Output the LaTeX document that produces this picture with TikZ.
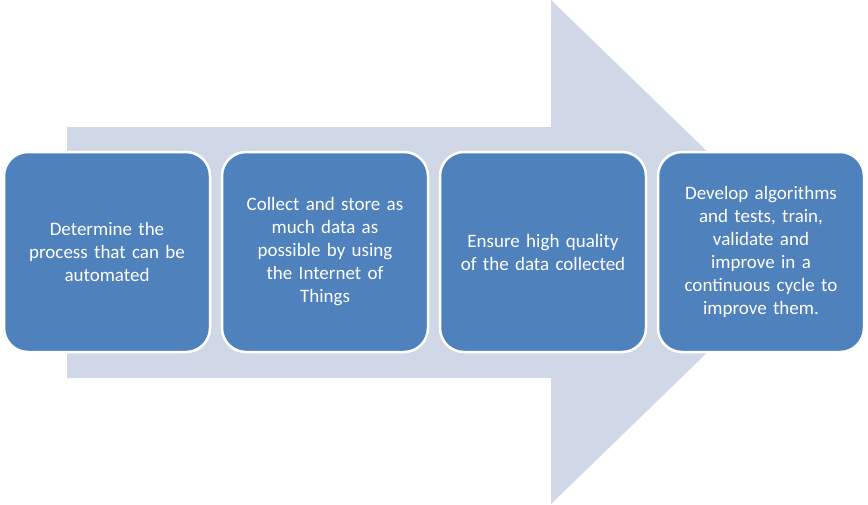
\documentclass[tikz,border=0pt]{standalone}
\usepackage{fontspec}
\setmainfont{Carlito}
\begin{document}
\begin{tikzpicture}[x=1pt,y=-1pt,
  box/.style={draw=white,line width=2.5pt,fill=boxblue,rounded corners=24pt,
    minimum width=206pt,minimum height=200pt,text width=170pt,align=center,
    text=white,font=\fontsize{19pt}{23pt}\selectfont,inner sep=0pt}]
\definecolor{boxblue}{HTML}{4F81BD}
\definecolor{arrowfill}{HTML}{D0D8E8}
\useasboundingbox (0,0) rectangle (868,504);
\fill[arrowfill] (67,127) -- (551,127) -- (551,0) -- (811,252) -- (551,504) -- (551,378) -- (67,378) -- cycle;
\node[box] (b1) at (107,252) {Determine the\\ process that can be\\ automated};
\node[box] (b2) at (325,252) {Collect and store as\\ much data as\\ possible by using\\ the Internet of\\ Things};
\node[box] (b3) at (543,252) {Ensure high quality\\ of the data collected};
\node[box] (b4) at (761,252) {Develop algorithms\\ and tests, train,\\ validate and\\ improve in a\\ continuous cycle to\\ improve them.};
\end{tikzpicture}
\end{document}
